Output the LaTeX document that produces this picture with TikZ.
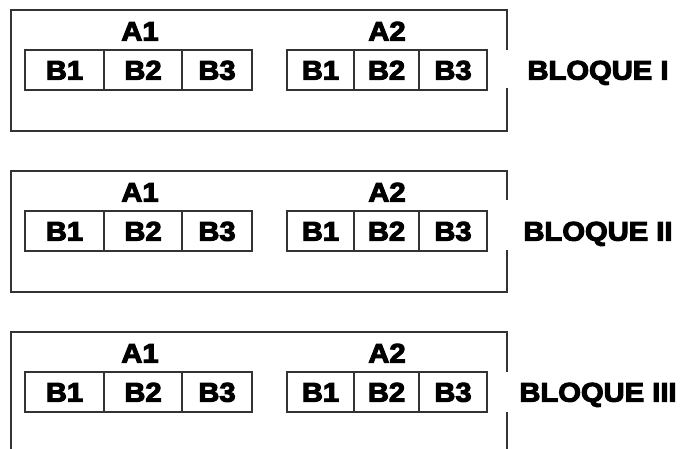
\documentclass[tikz,border=0pt]{standalone}
\usepackage{fontspec}
\setmainfont{Liberation Sans}[FakeStretch=1.08,FakeBold=4]
\begin{document}
\begin{tikzpicture}[x=1pt,y=-1pt,
  txt/.style={font=\fontsize{27}{27}\selectfont\bfseries, text height=19.3pt, text depth=0pt, inner sep=0pt},
  cell/.style={txt, draw=black!80, line width=1.1pt, minimum height=40pt, outer sep=0pt},
  frame/.style={draw=black!80, line width=1.2pt}]
\clip (0,0) rectangle (681,448);
\fill[white] (0,0) rectangle (681,448);
\foreach \oy/\lab/\gt/\gb in {10/I/40/78, 171/II/29/79, 332/III/40/80}{
  % outer frame with a gap on the right side
  \draw[frame] (507,{\oy+\gt}) -- (507,\oy) -- (11,\oy) -- (11,{\oy+121}) -- (507,{\oy+121}) -- (507,{\oy+\gb});
  % group labels
  \node[txt] (a1\lab) at (140,{\oy+21}) {A1};
  \node[txt] (a2\lab) at (387,{\oy+21}) {A2};
  % cells of A1
  \node[cell, minimum width=79pt] (p\lab b1) at (64.5,{\oy+60}) {B1};
  \node[cell, minimum width=78pt] (p\lab b2) at (143,{\oy+60}) {B2};
  \node[cell, minimum width=70pt] (p\lab b3) at (217,{\oy+60}) {B3};
  % cells of A2
  \node[cell, minimum width=67pt] (q\lab b1) at (320.5,{\oy+60}) {B1};
  \node[cell, minimum width=65pt] (q\lab b2) at (386.5,{\oy+60}) {B2};
  \node[cell, minimum width=68pt] (q\lab b3) at (453,{\oy+60}) {B3};
  % block label
  \node[txt] (bl\lab) at (598,{\oy+60}) {BLOQUE \lab};
}
\end{tikzpicture}
\end{document}
